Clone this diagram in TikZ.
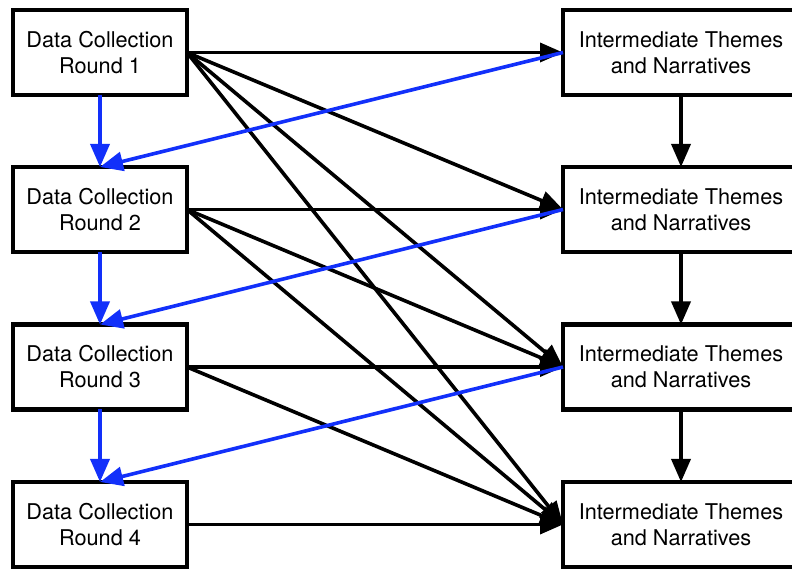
\documentclass[tikz,border=0pt]{standalone}
\usepackage{fontspec}
\setmainfont{TeX Gyre Heros}
\usetikzlibrary{arrows.meta}
\definecolor{linkblue}{RGB}{18,48,250}
\begin{document}
\begin{tikzpicture}[x=1pt,y=1pt,
  box/.style={draw=black, line width=4.2pt, fill=white, align=center,
    font=\fontsize{21.7}{26}\selectfont, inner sep=0pt, outer sep=0pt},
  roundbox/.style={box, minimum width=174pt, minimum height=85pt},
  themebox/.style={box, minimum width=236pt, minimum height=85pt},
  flow/.style={line width=3.6pt, -{Triangle[length=23pt,width=19pt]}},
  feedback/.style={flow, draw=linkblue, color=linkblue}
]
\useasboundingbox (0,0) rectangle (792,570);
\clip (0,0) rectangle (792,570);

% data collection rounds (left column)
\node[roundbox] (L1) at (100,517.5) {Data Collection\\Round 1};
\node[roundbox] (L2) at (100,360.5) {Data Collection\\Round 2};
\node[roundbox] (L3) at (100,203) {Data Collection\\Round 3};
\node[roundbox] (L4) at (100,45.5) {Data Collection\\Round 4};

% intermediate themes (right column)
\node[themebox] (R1) at (681,517.5) {Intermediate Themes\\and Narratives};
\node[themebox] (R2) at (681,360.5) {Intermediate Themes\\and Narratives};
\node[themebox] (R3) at (681,203) {Intermediate Themes\\and Narratives};
\node[themebox] (R4) at (681,45.5) {Intermediate Themes\\and Narratives};

% each round feeds the current and all later theme sets
\draw[flow] (L1.east) -- (R1.west);
\draw[flow] (L1.east) -- (R2.west);
\draw[flow] (L1.east) -- (R3.west);
\draw[flow] (L1.east) -- (R4.west);
\draw[flow] (L2.east) -- (R2.west);
\draw[flow] (L2.east) -- (R3.west);
\draw[flow] (L2.east) -- (R4.west);
\draw[flow] (L3.east) -- (R3.west);
\draw[flow] (L3.east) -- (R4.west);
\draw[flow] (L4.east) -- (R4.west);

% theme refinement
\draw[flow] (R1.south) -- (R2.north);
\draw[flow] (R2.south) -- (R3.north);
\draw[flow] (R3.south) -- (R4.north);

% round sequence and feedback into the next round
\draw[feedback] (L1.south) -- (L2.north);
\draw[feedback] (L2.south) -- (L3.north);
\draw[feedback] (L3.south) -- (L4.north);
\draw[feedback] (R1.west) -- (L2.north);
\draw[feedback] (R2.west) -- (L3.north);
\draw[feedback] (R3.west) -- (L4.north);
\end{tikzpicture}
\end{document}
